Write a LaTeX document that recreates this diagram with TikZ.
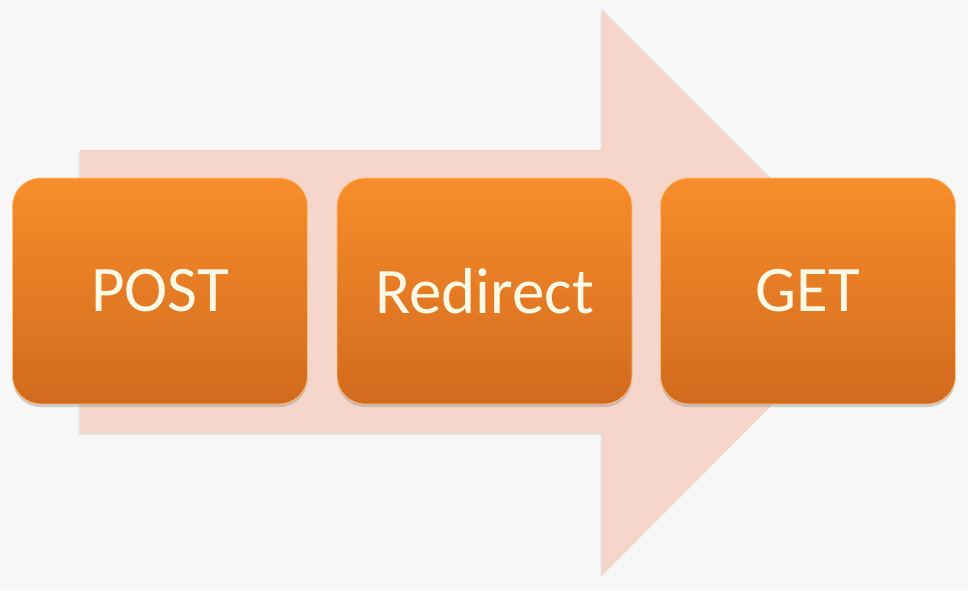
\documentclass[tikz,border=0pt]{standalone}
\usepackage{fontspec}
\setmainfont{Carlito}
\usetikzlibrary{shadows}
\definecolor{bgcol}{HTML}{F7F7F7}
\definecolor{arrowcol}{HTML}{F6D6CA}
\definecolor{boxtop}{HTML}{F88D2A}
\definecolor{boxbot}{HTML}{D26A1E}
\definecolor{txtcol}{HTML}{FFF9E6}
\definecolor{rimcol}{HTML}{F9C27E}
\tikzset{
  stepbox/.style={rounded corners=28pt, minimum width=295pt, minimum height=226pt,
    top color=boxtop, bottom color=boxbot, draw=rimcol, line width=0.8pt,
    drop shadow={opacity=0.35, shadow xshift=0pt, shadow yshift=-3pt},
    text=txtcol, font=\fontsize{65}{70}\selectfont, inner sep=0pt},
  bigarrow/.style={fill=arrowcol, draw=arrowcol!92!gray, line width=0.5pt,
    drop shadow={opacity=0.15, shadow xshift=-1.5pt, shadow yshift=-2pt}}
}
\begin{document}
\begin{tikzpicture}[x=1pt,y=-1pt]
\fill[bgcol] (0,0) rectangle (968,590);
\useasboundingbox (0,0) rectangle (968,590);
\draw[bigarrow] (80,150) -- (602,150) -- (602,10) -- (884,292) -- (602,575) -- (602,433) -- (80,433) -- cycle;
\node[stepbox] (post) at (160,291) {POST};
\node[stepbox] (redirect) at (484.5,291) {Redirect};
\node[stepbox] (get) at (808,291) {GET};
\end{tikzpicture}
\end{document}
